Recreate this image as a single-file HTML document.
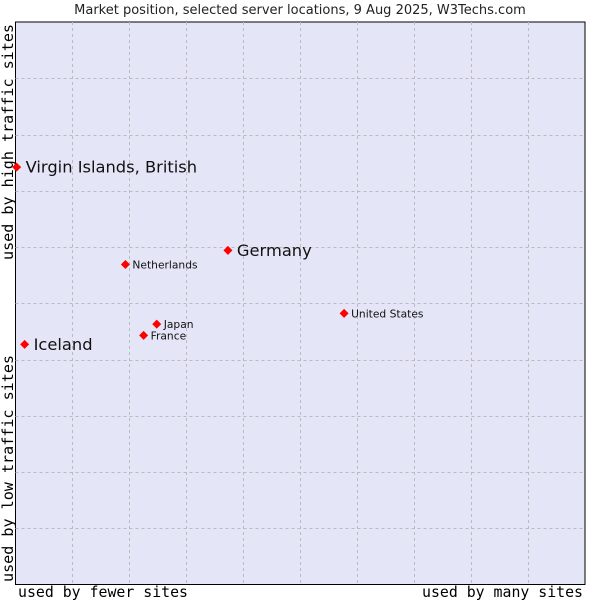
<!DOCTYPE html>
<html><head><meta charset="utf-8"><style>
body{margin:0;background:#fff;}
svg{display:block;font-family:"DejaVu Sans","Liberation Sans",sans-serif;}
.mono{font-family:"DejaVu Sans Mono","Liberation Mono",monospace;}
</style></head><body>
<svg id="chart" width="600" height="600">
<text x="300" y="14" text-anchor="middle" font-size="13" fill="#222">Market position, selected server locations, 9 Aug 2025, W3Techs.com</text>
<rect x="15.5" y="22" width="569.5" height="562.5" fill="#e4e6f8" stroke="#000" stroke-width="1"/>
<g id="grid"></g>
<text class="mono" x="18" y="597" font-size="15" textLength="170" lengthAdjust="spacingAndGlyphs" fill="#000">used by fewer sites</text>
<text class="mono" x="422" y="597" font-size="15" textLength="161" lengthAdjust="spacingAndGlyphs" fill="#000">used by many sites</text>
<text class="mono" transform="translate(13,582) rotate(-90)" font-size="15" textLength="227" lengthAdjust="spacingAndGlyphs" fill="#000">used by low traffic sites</text>
<text class="mono" transform="translate(13,260) rotate(-90)" font-size="15" textLength="236" lengthAdjust="spacingAndGlyphs" fill="#000">used by high traffic sites</text>
<g id="points"></g>
</svg>
<script>
const names=["Virgin Islands, British","Iceland","Germany","Netherlands","Japan","France","United States"];
const xVals=[0.2,1.6,37.3,19.3,24.8,22.5,57.7];
const yVals=[74.2,42.7,59.4,56.9,46.3,44.3,48.2];
const big=[true,true,true,false,false,false,false];
const X0=15.5,X1=585,Y0=584.5,Y1=22;
const xs=v=>X0+(X1-X0)*v/100, ys=v=>Y0-(Y0-Y1)*v/100;
const NS="http://www.w3.org/2000/svg";
const grid=document.getElementById('grid');
for(let i=1;i<10;i++){
  let l=document.createElementNS(NS,'line');
  
  
  let x=Math.round(xs(i*10))+0.5;
  l.setAttribute('x1',x);l.setAttribute('x2',x);l.setAttribute('y1',Y1);l.setAttribute('y2',Y0);
  l.setAttribute('stroke','#bbb');l.setAttribute('stroke-dasharray','3,3');grid.appendChild(l);
  let h=document.createElementNS(NS,'line');
  
  
  let y=Math.round(ys(i*10))+0.5;
  h.setAttribute('x1',X0);h.setAttribute('x2',X1);h.setAttribute('y1',y);h.setAttribute('y2',y);
  h.setAttribute('stroke','#bbb');h.setAttribute('stroke-dasharray','3,3');grid.appendChild(h);
}
const pts=document.getElementById('points');
names.forEach((n,i)=>{
  const cx=xs(xVals[i]),cy=ys(yVals[i]);
  let p=document.createElementNS(NS,'polygon');
  
  
  p.setAttribute('points',`${cx},${cy-4.5} ${cx+4.5},${cy} ${cx},${cy+4.5} ${cx-4.5},${cy}`);
  p.setAttribute('fill','#f00');pts.appendChild(p);
  let t=document.createElementNS(NS,'text');
  
  
  t.setAttribute('x',cx+(big[i]?9:7));t.setAttribute('y',cy+(big[i]?5.5:4));
  t.setAttribute('font-size',big[i]?16.3:10.7);t.setAttribute('fill','#111');
  t.textContent=n;pts.appendChild(t);
});
</script>
</body></html>
